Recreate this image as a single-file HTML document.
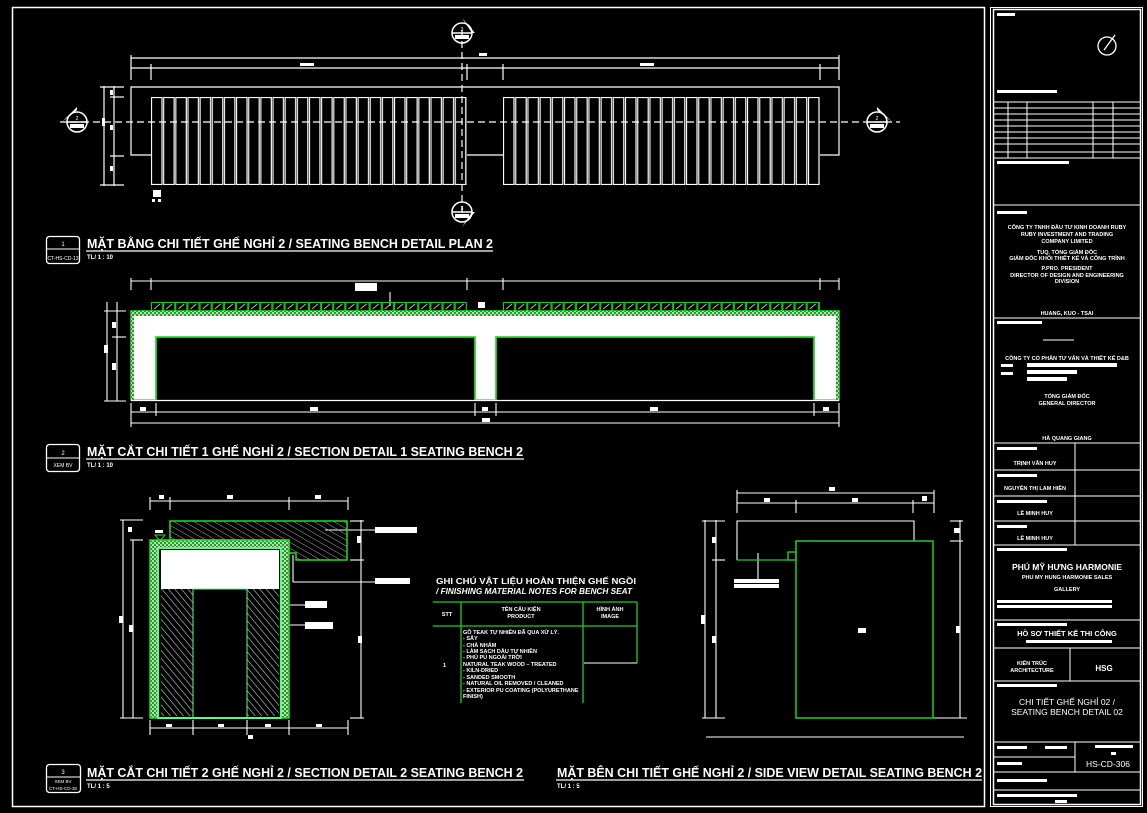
<!DOCTYPE html>
<html><head><meta charset="utf-8"><style>
html,body{margin:0;padding:0;background:#000;width:1147px;height:813px;overflow:hidden}
svg{display:block}
text{font-family:"Liberation Sans","Noto Sans CJK SC",sans-serif;fill:#fff}
</style></head><body>
<svg width="1147" height="813" viewBox="0 0 1147 813" xmlns="http://www.w3.org/2000/svg">
<defs>
<pattern id="slat" x="151" y="0" width="12.15" height="200" patternUnits="userSpaceOnUse">
<rect x="0.5" y="97.5" width="10.5" height="87" fill="none" stroke="#fff" stroke-width="1.2"/>
</pattern>
<pattern id="slat2" x="503" y="0" width="12.2" height="200" patternUnits="userSpaceOnUse">
<rect x="0.5" y="97.5" width="10.5" height="87" fill="none" stroke="#fff" stroke-width="1.2"/>
</pattern>
<pattern id="hs" x="151" y="302" width="12.15" height="9" patternUnits="userSpaceOnUse">
<rect x="0.5" y="0.5" width="11" height="8.5" fill="none" stroke="#2c2" stroke-width="1"/>
<line x1="3" y1="7" x2="9" y2="2" stroke="#bbb" stroke-width="1"/>
</pattern>
<pattern id="hs2" x="503" y="302" width="12.15" height="9" patternUnits="userSpaceOnUse">
<rect x="0.5" y="0.5" width="11" height="8.5" fill="none" stroke="#2c2" stroke-width="1"/>
<line x1="3" y1="7" x2="9" y2="2" stroke="#bbb" stroke-width="1"/>
</pattern>
<pattern id="diag" width="5" height="5" patternUnits="userSpaceOnUse" patternTransform="rotate(-40)">
<line x1="0" y1="0" x2="0" y2="5" stroke="#ccc" stroke-width="1.2"/>
</pattern>
<pattern id="diag2" width="5" height="5" patternUnits="userSpaceOnUse" patternTransform="rotate(-60)">
<line x1="0" y1="0" x2="0" y2="5" stroke="#aaa" stroke-width="1"/>
</pattern>
<pattern id="chk" width="4" height="4" patternUnits="userSpaceOnUse">
<rect width="4" height="4" fill="#1a1"/><rect width="2" height="2" fill="#ccc"/><rect x="2" y="2" width="2" height="2" fill="#ccc"/>
</pattern>
</defs>

<!-- sheet border -->
<rect x="12.5" y="7.5" width="972" height="799" fill="none" stroke="#fff" stroke-width="1.5"/>
<rect x="990.5" y="7.5" width="152" height="799" fill="none" stroke="#fff" stroke-width="1"/>
<rect x="993.5" y="9.5" width="147" height="795" fill="none" stroke="#fff" stroke-width="1.5"/>

<!-- ===== PLAN ===== -->
<g stroke="#fff" stroke-width="1.2" fill="none">
<line x1="131" y1="58" x2="839" y2="58"/>
<line x1="131" y1="68" x2="839" y2="68"/>
<line x1="131" y1="55" x2="131" y2="80"/><line x1="151" y1="64" x2="151" y2="80"/>
<line x1="467" y1="64" x2="467" y2="80"/><line x1="503" y1="64" x2="503" y2="80"/>
<line x1="820" y1="64" x2="820" y2="80"/><line x1="839" y1="55" x2="839" y2="80"/>
<path d="M151 155 H131 V87 H839 V155 H820"/>
<path d="M467 155 H503"/>
<line x1="104" y1="86" x2="104" y2="186"/><line x1="114" y1="86" x2="114" y2="186"/>
<line x1="100" y1="87" x2="124" y2="87"/><line x1="100" y1="185" x2="124" y2="185"/>
<line x1="110" y1="97" x2="124" y2="97"/><line x1="110" y1="156" x2="124" y2="156"/>
</g>
<rect x="151" y="97" width="316" height="88" fill="url(#slat)"/>
<rect x="503" y="97" width="317" height="88" fill="url(#slat2)"/>
<g fill="#fff"><rect x="479" y="53" width="8" height="3"/><rect x="300" y="63" width="14" height="3"/><rect x="640" y="63" width="14" height="3"/>
<rect x="102" y="118" width="3" height="8"/><rect x="110" y="90" width="3" height="5"/><rect x="110" y="125" width="3" height="5"/><rect x="110" y="166" width="3" height="5"/>
<rect x="153" y="190" width="8" height="7"/><rect x="152" y="199" width="3" height="3"/><rect x="158" y="199" width="3" height="3"/></g>
<g stroke="#fff" stroke-width="1.2" stroke-dasharray="7,4">
<line x1="60" y1="122" x2="900" y2="122"/>
<line x1="462" y1="30" x2="462" y2="215"/>
</g>
<!-- section markers -->
<g fill="none" stroke="#fff" stroke-width="1.5">
<circle cx="462" cy="33" r="10"/><circle cx="462" cy="212" r="10"/><circle cx="77" cy="122" r="10"/><circle cx="877" cy="122" r="10"/>
<line x1="452" y1="33" x2="472" y2="33"/><line x1="452" y1="212" x2="472" y2="212"/><line x1="67" y1="122" x2="87" y2="122"/><line x1="867" y1="122" x2="887" y2="122"/>
</g>
<g fill="#fff"><path d="M462 18 L475 33 L472 33Z"/><path d="M462 227 L475 212 L472 212Z"/><path d="M62 122 L77 107 L77 110Z"/><path d="M892 122 L877 107 L877 110Z"/>
<rect x="455" y="35" width="14" height="4"/><rect x="455" y="214" width="14" height="4"/><rect x="70" y="124" width="14" height="4"/><rect x="870" y="124" width="14" height="4"/></g>
<text x="462" y="31" font-size="5" text-anchor="middle">3</text><text x="462" y="210" font-size="5" text-anchor="middle">3</text>
<text x="77" y="120" font-size="5" text-anchor="middle">2</text><text x="877" y="120" font-size="5" text-anchor="middle">2</text>

<!-- title 1 -->
<rect x="46.5" y="236.5" width="33" height="27" rx="3" fill="none" stroke="#fff" stroke-width="1.3"/>
<line x1="47" y1="249" x2="79" y2="249" stroke="#fff"/>
<text x="63" y="246" font-size="6" text-anchor="middle">1</text>
<text x="63" y="260" font-size="5" text-anchor="middle">CT-HS-CD-13</text>
<text x="87" y="248" font-size="13" font-weight="bold" textLength="406" lengthAdjust="spacingAndGlyphs">MẶT BẰNG CHI TIẾT GHẾ NGHỈ 2 / SEATING BENCH DETAIL PLAN 2</text>
<line x1="86" y1="251" x2="493" y2="251" stroke="#fff" stroke-width="1.3"/>
<text x="87" y="259" font-size="6" font-weight="bold">TL/ 1 : 10</text>

<!-- ===== SECTION 1 ===== -->
<g stroke="#fff" stroke-width="1.1" fill="none">
<line x1="131" y1="281" x2="839" y2="281"/>
<line x1="131" y1="278" x2="131" y2="290"/><line x1="151" y1="278" x2="151" y2="290"/><line x1="467" y1="278" x2="467" y2="290"/><line x1="503" y1="278" x2="503" y2="290"/><line x1="820" y1="278" x2="820" y2="290"/><line x1="839" y1="278" x2="839" y2="290"/>
<line x1="390" y1="292" x2="390" y2="306"/>
<line x1="107" y1="302" x2="107" y2="401"/><line x1="117" y1="302" x2="117" y2="401"/>
<line x1="104" y1="401" x2="126" y2="401"/><line x1="112" y1="337" x2="126" y2="337"/><line x1="104" y1="311" x2="126" y2="311"/>
<line x1="131" y1="412" x2="839" y2="412"/><line x1="131" y1="423" x2="839" y2="423"/>
<line x1="131" y1="403" x2="131" y2="427"/><line x1="156" y1="403" x2="156" y2="416"/><line x1="475" y1="403" x2="475" y2="416"/><line x1="496" y1="403" x2="496" y2="416"/><line x1="814" y1="403" x2="814" y2="416"/><line x1="839" y1="403" x2="839" y2="427"/>
</g>
<g fill="#fff"><rect x="355" y="283" width="22" height="8"/><rect x="478" y="302" width="7" height="6"/>
<rect x="140" y="407" width="6" height="4"/><rect x="310" y="407" width="8" height="4"/><rect x="482" y="407" width="6" height="4"/><rect x="650" y="407" width="8" height="4"/><rect x="823" y="407" width="6" height="4"/><rect x="482" y="418" width="8" height="4"/>
<rect x="104" y="345" width="4" height="8"/><rect x="112" y="322" width="4" height="6"/><rect x="112" y="363" width="4" height="7"/></g>
<rect x="151" y="302" width="316" height="9" fill="url(#hs)"/>
<rect x="503" y="302" width="317" height="9" fill="url(#hs2)"/>
<path d="M131 311 H839 V400 H814 V337 H496 V400 H475 V337 H156 V400 H131Z" fill="#fff" stroke="#2d2" stroke-width="1.5"/>
<rect x="131" y="311" width="708" height="5" fill="url(#chk)"/>
<rect x="131" y="311" width="3" height="89" fill="url(#chk)"/><rect x="836" y="311" width="3" height="89" fill="url(#chk)"/>
<path d="M156 400 V337 H475 V400 M496 400 V337 H814 V400" fill="none" stroke="#2d2" stroke-width="1.5"/>
<line x1="131" y1="400.5" x2="839" y2="400.5" stroke="#fff" stroke-width="1.2"/>

<!-- title 2 -->
<rect x="46.5" y="444.5" width="33" height="27" rx="3" fill="none" stroke="#fff" stroke-width="1.3"/>
<line x1="47" y1="458" x2="79" y2="458" stroke="#fff"/>
<text x="63" y="455" font-size="6" text-anchor="middle">2</text>
<text x="63" y="467" font-size="5" text-anchor="middle">XEM BV</text>
<text x="87" y="456" font-size="13" font-weight="bold" textLength="436" lengthAdjust="spacingAndGlyphs">MẶT CẮT CHI TIẾT 1 GHẾ NGHỈ 2 / SECTION DETAIL 1 SEATING BENCH 2</text>
<line x1="86" y1="459" x2="524" y2="459" stroke="#fff" stroke-width="1.3"/>
<text x="87" y="467" font-size="6" font-weight="bold">TL/ 1 : 10</text>

<!-- ===== SECTION 2 ===== -->
<g stroke="#fff" stroke-width="1.1" fill="none">
<line x1="150" y1="501" x2="348" y2="501"/>
<line x1="150" y1="497" x2="150" y2="510"/><line x1="170" y1="497" x2="170" y2="510"/><line x1="289" y1="497" x2="289" y2="510"/><line x1="348" y1="497" x2="348" y2="510"/>
<line x1="150" y1="728" x2="348" y2="728"/>
<line x1="150" y1="720" x2="150" y2="735"/><line x1="193" y1="720" x2="193" y2="735"/><line x1="247" y1="720" x2="247" y2="735"/><line x1="289" y1="720" x2="289" y2="735"/><line x1="348" y1="720" x2="348" y2="735"/>
<line x1="123" y1="520" x2="123" y2="718"/><line x1="133" y1="540" x2="133" y2="718"/>
<line x1="120" y1="520" x2="143" y2="520"/><line x1="130" y1="540" x2="143" y2="540"/><line x1="120" y1="718" x2="143" y2="718"/>
<line x1="361" y1="520" x2="361" y2="718"/><line x1="350" y1="521" x2="364" y2="521"/><line x1="350" y1="560" x2="364" y2="560"/><line x1="350" y1="718" x2="364" y2="718"/>
<line x1="325" y1="530" x2="375" y2="530"/>
<line x1="293" y1="555" x2="293" y2="582"/><line x1="293" y1="582" x2="375" y2="582"/>
<line x1="272" y1="605" x2="305" y2="605"/><line x1="280" y1="625" x2="305" y2="625"/>
</g>
<g fill="#fff">
<rect x="375" y="527" width="42" height="6"/><rect x="375" y="578" width="35" height="6"/><rect x="305" y="601" width="22" height="7"/><rect x="305" y="622" width="28" height="7"/>
<rect x="159" y="495" width="5" height="4"/><rect x="227" y="495" width="6" height="4"/><rect x="315" y="495" width="6" height="4"/>
<rect x="166" y="724" width="6" height="3"/><rect x="218" y="724" width="6" height="3"/><rect x="265" y="724" width="6" height="3"/><rect x="316" y="724" width="6" height="3"/><rect x="248" y="735" width="5" height="4"/>
<rect x="119" y="616" width="4" height="7"/><rect x="129" y="625" width="4" height="7"/><rect x="128" y="527" width="4" height="5"/><rect x="358" y="636" width="4" height="7"/><rect x="357" y="536" width="4" height="7"/>
<rect x="155" y="530" width="8" height="3"/></g>
<path d="M155 535 L165 535 L160 541Z" fill="none" stroke="#2d2"/>
<path d="M170 521 H347 V560 H296 V553 H289 V540 H170Z" fill="url(#diag2)" stroke="#2d2" stroke-width="1.5"/>
<rect x="150" y="540" width="139" height="178" fill="url(#chk)" stroke="#2d2" stroke-width="1.5"/>
<rect x="158" y="548" width="123" height="170" fill="#000"/>
<rect x="158" y="548" width="123" height="170" fill="none" stroke="#5f8" stroke-width="2"/>
<rect x="161" y="550" width="118" height="39" fill="#fff"/>
<rect x="161" y="589" width="32" height="127" fill="url(#diag)"/>
<rect x="247" y="589" width="32" height="127" fill="url(#diag)"/>
<path d="M193 717 V589 H247 V717" fill="none" stroke="#5f8" stroke-width="1"/>

<!-- ===== NOTES TABLE ===== -->
<text x="436" y="584" font-size="8" font-weight="bold" textLength="200" lengthAdjust="spacingAndGlyphs">GHI CHÚ VẬT LIỆU HOÀN THIỆN GHẾ NGỒI</text>
<text x="436" y="594" font-size="8" font-weight="bold" font-style="italic" textLength="196" lengthAdjust="spacingAndGlyphs">/ FINISHING MATERIAL NOTES FOR BENCH SEAT</text>
<g stroke="#2c2" stroke-width="1.3">
<line x1="433" y1="602" x2="637" y2="602"/><line x1="433" y1="626" x2="637" y2="626"/>
<line x1="461" y1="602" x2="461" y2="703"/><line x1="583" y1="602" x2="583" y2="703"/><line x1="637" y1="602" x2="637" y2="663"/>
</g>
<line x1="584" y1="663" x2="637" y2="663" stroke="#fff"/>
<g font-size="5.5" font-weight="bold">
<text x="447" y="616" text-anchor="middle">STT</text>
<text x="521" y="611" text-anchor="middle">TÊN CẤU KIỆN</text><text x="521" y="618" text-anchor="middle">PRODUCT</text>
<text x="610" y="611" text-anchor="middle">HÌNH ẢNH</text><text x="610" y="618" text-anchor="middle">IMAGE</text>
<text x="443" y="667">1</text>
<text x="463" y="634">GỖ TEAK TỰ NHIÊN ĐÃ QUA XỬ LÝ.</text>
<text x="463" y="640">- SẤY</text><text x="463" y="647">- CHÀ NHÁM</text><text x="463" y="653">- LÀM SẠCH DẦU TỰ NHIÊN</text><text x="463" y="659">- PHỦ PU NGOÀI TRỜI</text>
<text x="463" y="666">NATURAL TEAK WOOD – TREATED</text><text x="463" y="672">- KILN-DRIED</text><text x="463" y="679">- SANDED SMOOTH</text><text x="463" y="685">- NATURAL OIL REMOVED / CLEANED</text><text x="463" y="692">- EXTERIOR PU COATING (POLYURETHANE</text><text x="463" y="698">FINISH)</text>
</g>

<!-- ===== SIDE VIEW ===== -->
<g stroke="#fff" stroke-width="1.1" fill="none">
<line x1="737" y1="493" x2="934" y2="493"/><line x1="737" y1="503" x2="934" y2="503"/>
<line x1="737" y1="490" x2="737" y2="513"/><line x1="796" y1="500" x2="796" y2="513"/><line x1="913" y1="500" x2="913" y2="513"/><line x1="934" y1="490" x2="934" y2="513"/>
<path d="M737 560 V521 H914 V541"/>
<line x1="705" y1="520" x2="705" y2="718"/><line x1="716" y1="520" x2="716" y2="718"/>
<line x1="702" y1="521" x2="725" y2="521"/><line x1="712" y1="560" x2="725" y2="560"/><line x1="702" y1="718" x2="725" y2="718"/>
<line x1="960" y1="520" x2="960" y2="718"/><line x1="950" y1="521" x2="963" y2="521"/><line x1="950" y1="541" x2="963" y2="541"/><line x1="933" y1="718" x2="967" y2="718"/>
<line x1="706" y1="737" x2="964" y2="737"/>
<line x1="758" y1="553" x2="758" y2="579"/>
</g>
<path d="M737 560 H788" stroke="#2c2" stroke-width="1.3"/>
<rect x="788" y="552" width="8" height="8" fill="none" stroke="#2d2" stroke-width="1.3"/>
<rect x="796" y="541" width="137" height="177" fill="none" stroke="#2c2" stroke-width="1.5"/>
<g fill="#fff"><rect x="734" y="579" width="45" height="4"/><rect x="734" y="584" width="45" height="4"/>
<rect x="829" y="487" width="6" height="4"/><rect x="764" y="498" width="6" height="4"/><rect x="852" y="498" width="6" height="4"/><rect x="922" y="496" width="5" height="5"/>
<rect x="858" y="628" width="8" height="5"/><rect x="701" y="615" width="4" height="9"/><rect x="712" y="537" width="4" height="6"/><rect x="712" y="636" width="4" height="7"/><rect x="954" y="528" width="6" height="5"/><rect x="956" y="626" width="4" height="7"/></g>

<!-- title 3 -->
<rect x="46.5" y="764.5" width="34" height="28" rx="3" fill="none" stroke="#fff" stroke-width="1.3"/>
<line x1="47" y1="777" x2="80" y2="777" stroke="#fff"/>
<text x="63" y="774" font-size="6" text-anchor="middle">3</text>
<text x="63" y="783" font-size="4.5" text-anchor="middle">XEM BV</text>
<text x="63" y="790" font-size="4.5" text-anchor="middle">CT-HS-CD-30</text>
<text x="87" y="777" font-size="13" font-weight="bold" textLength="436" lengthAdjust="spacingAndGlyphs">MẶT CẮT CHI TIẾT 2 GHẾ NGHỈ 2 / SECTION DETAIL 2 SEATING BENCH 2</text>
<line x1="86" y1="780" x2="524" y2="780" stroke="#fff" stroke-width="1.3"/>
<text x="87" y="788" font-size="6" font-weight="bold">TL/ 1 : 5</text>
<text x="557" y="777" font-size="13" font-weight="bold" textLength="425" lengthAdjust="spacingAndGlyphs">MẶT BÊN CHI TIẾT GHẾ NGHỈ 2 / SIDE VIEW DETAIL SEATING BENCH 2</text>
<line x1="556" y1="780" x2="982" y2="780" stroke="#fff" stroke-width="1.3"/>
<text x="557" y="788" font-size="6" font-weight="bold">TL/ 1 : 5</text>

<!-- ===== TITLE BLOCK ===== -->
<rect x="997" y="13" width="18" height="3" fill="#fff"/>
<circle cx="1107" cy="46" r="9" fill="none" stroke="#fff" stroke-width="1.3"/>
<line x1="1104" y1="50" x2="1115" y2="35" stroke="#fff" stroke-width="1.3"/>
<rect x="997" y="90" width="60" height="3" fill="#fff"/>
<g stroke="#fff" stroke-width="1" fill="none">
<line x1="994" y1="102" x2="1140" y2="102"/><line x1="994" y1="108" x2="1140" y2="108"/><line x1="994" y1="114" x2="1140" y2="114"/><line x1="994" y1="120" x2="1140" y2="120"/><line x1="994" y1="126" x2="1140" y2="126"/><line x1="994" y1="132" x2="1140" y2="132"/><line x1="994" y1="138" x2="1140" y2="138"/><line x1="994" y1="144" x2="1140" y2="144"/><line x1="994" y1="152" x2="1140" y2="152"/>
<line x1="1008" y1="102" x2="1008" y2="158"/><line x1="1027" y1="102" x2="1027" y2="158"/><line x1="1093" y1="102" x2="1093" y2="158"/><line x1="1113" y1="102" x2="1113" y2="158"/>
<line x1="994" y1="158" x2="1140" y2="158"/>
<line x1="994" y1="205" x2="1140" y2="205"/>
<line x1="994" y1="318" x2="1140" y2="318"/>
<line x1="1043" y1="340" x2="1074" y2="340"/>
<line x1="994" y1="443" x2="1140" y2="443"/><line x1="994" y1="470" x2="1140" y2="470"/><line x1="994" y1="496" x2="1140" y2="496"/><line x1="994" y1="521" x2="1140" y2="521"/><line x1="994" y1="545" x2="1140" y2="545"/>
<line x1="1075" y1="443" x2="1075" y2="545"/>
<line x1="994" y1="620" x2="1140" y2="620"/><line x1="994" y1="648" x2="1140" y2="648"/><line x1="994" y1="681" x2="1140" y2="681"/>
<line x1="1070" y1="648" x2="1070" y2="681"/>
<line x1="994" y1="742" x2="1140" y2="742"/><line x1="994" y1="772" x2="1140" y2="772"/><line x1="994" y1="790" x2="1140" y2="790"/>
<line x1="1075" y1="742" x2="1075" y2="772"/><line x1="994" y1="757" x2="1075" y2="757"/>
</g>
<g fill="#fff">
<rect x="997" y="161" width="72" height="3"/><rect x="997" y="211" width="30" height="3"/><rect x="997" y="321" width="45" height="3"/>
<rect x="1001" y="364" width="12" height="3"/><rect x="1001" y="372" width="12" height="3"/><rect x="1027" y="363" width="90" height="4"/><rect x="1027" y="370" width="50" height="4"/><rect x="1027" y="377" width="40" height="4"/>
<rect x="997" y="447" width="40" height="3"/><rect x="997" y="474" width="40" height="3"/><rect x="997" y="500" width="50" height="3"/><rect x="997" y="525" width="30" height="3"/><rect x="997" y="548" width="70" height="3"/>
<rect x="997" y="600" width="115" height="3"/><rect x="997" y="605" width="115" height="3"/>
<rect x="997" y="623" width="70" height="3"/><rect x="1026" y="640" width="86" height="3"/>
<rect x="997" y="684" width="60" height="3"/>
<rect x="997" y="746" width="30" height="3"/><rect x="1045" y="746" width="22" height="3"/><rect x="1095" y="745" width="38" height="3"/><rect x="1111" y="752" width="5" height="3"/>
<rect x="997" y="762" width="25" height="3"/><rect x="997" y="779" width="50" height="3"/><rect x="997" y="794" width="80" height="3"/><rect x="1055" y="800" width="12" height="3"/>
</g>
<g font-size="5.5" font-weight="bold" text-anchor="middle">
<text x="1067" y="229">CÔNG TY TNHH ĐẦU TƯ KINH DOANH RUBY</text>
<text x="1067" y="236">RUBY INVESTMENT AND TRADING</text>
<text x="1067" y="243">COMPANY LIMITED</text>
<text x="1067" y="254">TUQ. TỔNG GIÁM ĐỐC</text>
<text x="1067" y="260">GIÁM ĐỐC KHỐI THIẾT KẾ VÀ CÔNG TRÌNH</text>
<text x="1067" y="270">P.PRO. PRESIDENT</text>
<text x="1067" y="277">DIRECTOR OF DESIGN AND ENGINEERING</text>
<text x="1067" y="283">DIVISION</text>
<text x="1067" y="315">HUANG, KUO - TSAI</text>
<text x="1067" y="360">CÔNG TY CỔ PHẦN TƯ VẤN VÀ THIẾT KẾ D&amp;B</text>
<text x="1067" y="398">TỔNG GIÁM ĐỐC</text>
<text x="1067" y="405">GENERAL DIRECTOR</text>
<text x="1067" y="440">HÀ QUANG GIANG</text>
<text x="1035" y="465">TRỊNH VĂN HUY</text>
<text x="1035" y="490">NGUYỄN THỊ LAM HIỀN</text>
<text x="1035" y="515">LÊ MINH HUY</text>
<text x="1035" y="540">LÊ MINH HUY</text>
<text x="1067" y="579">PHU MY HUNG HARMONIE SALES</text>
<text x="1067" y="591">GALLERY</text>
<text x="1032" y="665">KIẾN TRÚC</text>
<text x="1032" y="672">ARCHITECTURE</text>
</g>
<text x="1067" y="570" font-size="8.5" font-weight="bold" text-anchor="middle">PHÚ MỸ HƯNG HARMONIE</text>
<text x="1067" y="636" font-size="7.5" font-weight="bold" text-anchor="middle">HỒ SƠ THIẾT KẾ THI CÔNG</text>
<text x="1104" y="671" font-size="8" font-weight="bold" text-anchor="middle">HSG</text>
<text x="1067" y="705" font-size="8.5" text-anchor="middle">CHI TIẾT GHẾ NGHỈ 02 /</text>
<text x="1067" y="715" font-size="8.5" text-anchor="middle">SEATING BENCH DETAIL 02</text>
<text x="1108" y="767" font-size="8.5" text-anchor="middle">HS-CD-306</text>
</svg>
</body></html>
